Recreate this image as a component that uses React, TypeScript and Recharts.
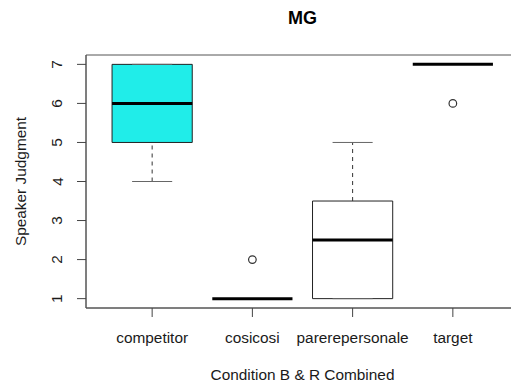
import React from 'react';
import {
  ComposedChart,
  ReferenceArea,
  ReferenceLine,
  Scatter,
  XAxis,
  YAxis,
} from 'recharts';

// boxplot stats per condition
const categories = ['competitor', 'cosicosi', 'parerepersonale', 'target'];
const lowerWhisker = [4, 1, 1, 7];
const lowerQuartile = [5, 1, 1, 7];
const medians = [6, 1, 2.5, 7];
const upperQuartile = [7, 1, 3.5, 7];
const upperWhisker = [7, 1, 5, 7];
const outlierCategory = [2, 4];
const outlierValue = [2, 6];
const yTicks = [1, 2, 3, 4, 5, 6, 7];

const BOX_HALF = 0.4;
const CAP_HALF = 0.2;
const FONT = '"Liberation Sans", Arial, Helvetica, sans-serif';
const BOX_FILLS = ['#20ede9', '#ffffff', '#ffffff', '#ffffff'];

const outlierData = outlierCategory.map((x, i) => ({ x, y: outlierValue[i] }));

const XTick = (props: any) => {
  const { x, y, payload } = props;
  return (
    <text x={x} y={y + 18} textAnchor="middle" dominantBaseline="central" fontSize={15.4} fill="#1a1a1a" fontFamily={FONT}>
      {categories[payload.value - 1]}
    </text>
  );
};

const YTick = (props: any) => {
  const { y, payload } = props;
  return (
    <text
      x={57}
      y={y}
      transform={`rotate(-90, 57, ${y})`}
      textAnchor="middle"
      dominantBaseline="central"
      fontSize={15.4}
      fill="#1a1a1a"
      fontFamily={FONT}
    >
      {payload.value}
    </text>
  );
};

export default function App() {
  return (
    <div style={{ position: 'fixed', left: 0, top: 0, width: 511, height: 385, overflow: 'hidden', background: '#fff' }}>
      <div
        style={{
          position: 'absolute',
          left: 86,
          width: 433,
          top: 8,
          height: 20,
          lineHeight: '20px',
          textAlign: 'center',
          fontFamily: FONT,
          fontWeight: 'bold',
          fontSize: 18,
          color: '#000',
        }}
      >
        MG
      </div>
      <ComposedChart width={530} height={385} margin={{ top: 55, right: 11, left: 0, bottom: 0 }}>
        <XAxis
          type="number"
          dataKey="x"
          domain={[0.34, 4.66]}
          ticks={[1, 2, 3, 4]}
          allowDataOverflow
          height={77}
          tickSize={9}
          tickLine={{ stroke: '#444' }}
          axisLine={{ stroke: '#555' }}
          tick={<XTick />}
          label={{
            content: (p: any) => {
              const vb = p.viewBox || { x: 86, y: 308, width: 433 };
              return (
                <text x={vb.x + vb.width / 2} y={vb.y + 66} textAnchor="middle" dominantBaseline="central" fontSize={15.4} fill="#1a1a1a" fontFamily={FONT}>
                  Condition B &amp; R Combined
                </text>
              );
            },
          }}
        />
        <YAxis
          type="number"
          dataKey="y"
          domain={[0.76, 7.24]}
          ticks={yTicks}
          allowDataOverflow
          width={86}
          tickSize={9}
          tickLine={{ stroke: '#444' }}
          axisLine={{ stroke: '#555' }}
          tick={<YTick />}
          label={{
            content: (p: any) => {
              const vb = p.viewBox || { x: 0, y: 55, height: 253 };
              const cy = vb.y + vb.height / 2;
              return (
                <text x={20} y={cy} transform={`rotate(-90, 20, ${cy})`} textAnchor="middle" dominantBaseline="central" fontSize={15.4} fill="#1a1a1a" fontFamily={FONT}>
                  Speaker Judgment
                </text>
              );
            },
          }}
        />
        <ReferenceArea x1={0.34} x2={4.66} y1={0.76} y2={7.24} fill="none" stroke="#555" strokeWidth={1} />
        {categories.map((c, i) => {
          const cx = i + 1;
          return (
            <React.Fragment key={c}>
              {/* whiskers */}
              {lowerWhisker[i] < lowerQuartile[i] && (
                <ReferenceLine
                  segment={[{ x: cx, y: lowerWhisker[i] }, { x: cx, y: lowerQuartile[i] }]}
                  stroke="#333"
                  strokeDasharray="4 4"
                />
              )}
              {upperWhisker[i] > upperQuartile[i] && (
                <ReferenceLine
                  segment={[{ x: cx, y: upperQuartile[i] }, { x: cx, y: upperWhisker[i] }]}
                  stroke="#333"
                  strokeDasharray="4 4"
                />
              )}
              {/* caps */}
              <ReferenceLine segment={[{ x: cx - CAP_HALF, y: lowerWhisker[i] }, { x: cx + CAP_HALF, y: lowerWhisker[i] }]} stroke="#666" />
              <ReferenceLine segment={[{ x: cx - CAP_HALF, y: upperWhisker[i] }, { x: cx + CAP_HALF, y: upperWhisker[i] }]} stroke="#666" />
              {upperQuartile[i] > lowerQuartile[i] && (
                <ReferenceArea
                  x1={cx - BOX_HALF}
                  x2={cx + BOX_HALF}
                  y1={lowerQuartile[i]}
                  y2={upperQuartile[i]}
                  fill={BOX_FILLS[i]}
                  fillOpacity={1}
                  stroke="#222"
                  strokeWidth={1}
                />
              )}
              <ReferenceLine
                segment={[{ x: cx - BOX_HALF, y: medians[i] }, { x: cx + BOX_HALF, y: medians[i] }]}
                stroke="#000"
                strokeWidth={3}
              />
            </React.Fragment>
          );
        })}
        <Scatter
          data={outlierData}
          dataKey="y"
          isAnimationActive={false}
          shape={(p: any) => <circle cx={p.cx} cy={p.cy} r={3.8} fill="#fff" stroke="#333" strokeWidth={1.2} />}
        />
      </ComposedChart>
    </div>
  );
}
